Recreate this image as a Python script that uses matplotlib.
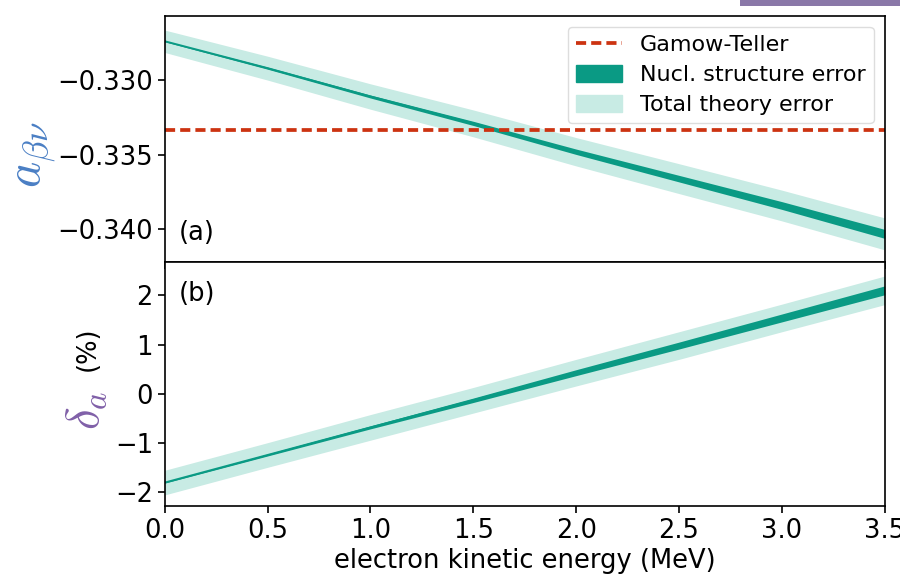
import matplotlib
matplotlib.use("Agg")
import matplotlib.pyplot as plt
from matplotlib.patches import Patch, Rectangle
from matplotlib.lines import Line2D

plt.rcParams["mathtext.fontset"] = "cm"
plt.rcParams["font.family"] = "DejaVu Sans"

# --- dados ---
energy = [0.0, 0.5, 1.0, 1.5, 2.0, 2.5, 3.0, 3.5]

a_center = [-0.3274, -0.3292, -0.3311, -0.3329, -0.3348, -0.3366, -0.3384, -0.3403]
a_nucl = [0.00003, 0.00007, 0.00010, 0.00014, 0.00018, 0.00022, 0.00026, 0.00030]
a_total = [0.00075, 0.00080, 0.00085, 0.00090, 0.00095, 0.00100, 0.00103, 0.00107]
gamow_teller = -1 / 3

d_center = [-1.80, -1.24, -0.68, -0.13, 0.43, 0.98, 1.54, 2.10]
d_nucl = [0.01, 0.02, 0.03, 0.045, 0.06, 0.07, 0.08, 0.09]
d_total = [0.25, 0.25, 0.26, 0.26, 0.27, 0.28, 0.28, 0.29]

dark = "#0a9a84"
light = "#c8ebe4"
red = "#cc3311"
fs = 18.5

fig = plt.figure(figsize=(9, 5.88), dpi=100)
ax1 = fig.add_axes([0.183, 0.554, 0.800, 0.419])
ax2 = fig.add_axes([0.183, 0.139, 0.800, 0.415], sharex=ax1)


def band(ax, c, nucl, total):
    lo_t = [m - e for m, e in zip(c, total)]
    hi_t = [m + e for m, e in zip(c, total)]
    lo_n = [m - e for m, e in zip(c, nucl)]
    hi_n = [m + e for m, e in zip(c, nucl)]
    ax.fill_between(energy, lo_t, hi_t, color=light, lw=0)
    ax.fill_between(energy, lo_n, hi_n, color=dark, lw=0)
    ax.plot(energy, c, color=dark, lw=1.4)


# --- painel (a) ---
band(ax1, a_center, a_nucl, a_total)
ax1.axhline(gamow_teller, color=red, ls="--", lw=2.7, dashes=(2.7, 1.35))
ax1.set_ylim(-0.3422, -0.3257)
ax1.set_yticks([-0.330, -0.335, -0.340])
ax1.set_yticklabels(["\u22120.330", "\u22120.335", "\u22120.340"])
ax1.tick_params(axis="x", length=0, labelbottom=False)
ax1.text(0.02, 0.09, "(a)", transform=ax1.transAxes, fontsize=fs)

handles = [
    Line2D([], [], color=red, ls="--", lw=2.7, dashes=(2.7, 1.35)),
    Patch(color=dark),
    Patch(color=light),
]
ax1.legend(handles, ["Gamow-Teller", "Nucl. structure error", "Total theory error"],
           loc="upper right", fontsize=16, framealpha=1, edgecolor="#dddddd",
           handlelength=2.1, handleheight=0.8, borderpad=0.35,
           labelspacing=0.45, borderaxespad=0.5)

# --- painel (b) ---
band(ax2, d_center, d_nucl, d_total)
ax2.set_ylim(-2.28, 2.67)
ax2.set_yticks([2, 1, 0, -1, -2])
ax2.set_yticklabels(["2", "1", "0", "\u22121", "\u22122"])
ax2.set_xlim(0, 3.5)
ax2.set_xticks([0, 0.5, 1.0, 1.5, 2.0, 2.5, 3.0, 3.5])
ax2.set_xlabel("electron kinetic energy (MeV)", fontsize=fs, labelpad=3)
ax2.text(0.02, 0.84, "(b)", transform=ax2.transAxes, fontsize=fs)

for ax in (ax1, ax2):
    ax.tick_params(labelsize=fs, width=1.2, length=5)
    for s in ax.spines.values():
        s.set_linewidth(1.2)

# rótulos dos eixos y
fig.text(35 / 900, 1 - 155 / 588, r"$a_{\beta\nu}$", rotation=90, color="#4a7fc4",
         fontsize=36, ha="center", va="center")
fig.text(86 / 900, 1 - 410 / 588, r"$\delta_a$", rotation=90, color="#8060a8",
         fontsize=34, ha="center", va="center")
fig.text(88 / 900, 1 - 349 / 588, "(%)", rotation=90, color="black",
         fontsize=fs, ha="center", va="center")

# detalhe do slide no canto
fig.patches.append(Rectangle((740 / 900, 1 - 6 / 588), 160 / 900, 6 / 588,
                             transform=fig.transFigure, color="#8a78a8", lw=0))

fig.savefig("out.png", dpi=100)
